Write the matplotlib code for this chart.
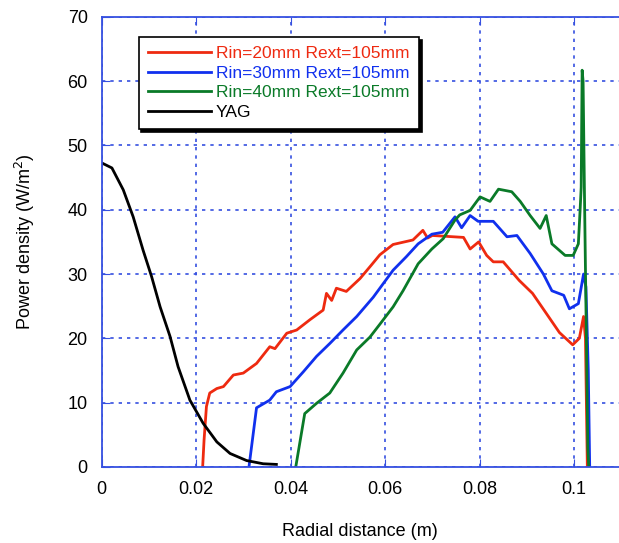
import numpy as np
import matplotlib.pyplot as plt

plt.rcParams['font.family'] = ['Liberation Sans', 'DejaVu Sans']

# Rin=20mm
x_r20 = [0.0214, 0.0217, 0.0222, 0.0229, 0.0244, 0.0258, 0.0279, 0.0300, 0.0328, 0.0356,
         0.0367, 0.0392, 0.0413, 0.0441, 0.0469, 0.0476, 0.0487, 0.0497, 0.0518, 0.0547,
         0.0571, 0.0589, 0.0617, 0.0659, 0.0680, 0.0690, 0.0700, 0.0766, 0.0780, 0.0798,
         0.0815, 0.0829, 0.0850, 0.0884, 0.0912, 0.0941, 0.0969, 0.0997, 0.1011, 0.1020,
         0.1024, 0.1028]
y_r20 = [0.0, 4.2, 9.4, 11.5, 12.2, 12.5, 14.3, 14.6, 16.1, 18.7,
         18.4, 20.8, 21.3, 22.9, 24.4, 27.0, 25.9, 27.8, 27.3, 29.3,
         31.4, 33.0, 34.6, 35.3, 36.8, 35.6, 36.0, 35.7, 33.9, 35.0,
         32.9, 31.9, 31.9, 29.0, 27.0, 23.9, 20.9, 19.0, 20.0, 23.4,
         20.0, 0.0]

# Rin=30mm
x_r30 = [0.0312, 0.0328, 0.0356, 0.0370, 0.0399, 0.0427, 0.0455, 0.0483, 0.0511, 0.0540,
         0.0575, 0.0617, 0.0645, 0.0670, 0.0699, 0.0722, 0.0748, 0.0762, 0.0780, 0.0797,
         0.0829, 0.0858, 0.0879, 0.0907, 0.0935, 0.0953, 0.0978, 0.0990, 0.1009, 0.1020,
         0.1025, 0.1030, 0.1033]
y_r30 = [0.0, 9.2, 10.4, 11.7, 12.5, 14.8, 17.2, 19.2, 21.3, 23.4,
         26.4, 30.6, 32.7, 34.7, 36.2, 36.5, 38.9, 37.2, 39.1, 38.2,
         38.2, 35.8, 36.0, 33.2, 30.0, 27.4, 26.7, 24.6, 25.4, 30.0,
         28.0, 15.0, 0.0]

# Rin=40mm
x_r40 = [0.0411, 0.0430, 0.0455, 0.0483, 0.0511, 0.0540, 0.0568, 0.0589, 0.0617, 0.0638,
         0.0670, 0.0699, 0.0723, 0.0748, 0.0758, 0.0780, 0.0801, 0.0822, 0.0840, 0.0868,
         0.0886, 0.0907, 0.0928, 0.0941, 0.0953, 0.0981, 0.0998, 0.1009, 0.1013, 0.1015,
         0.1016, 0.1017, 0.1019, 0.1022, 0.1029, 0.1031]
y_r40 = [0.0, 8.3, 9.9, 11.5, 14.6, 18.2, 20.2, 22.2, 24.9, 27.4,
         31.6, 33.9, 35.5, 38.4, 39.2, 39.9, 42.0, 41.3, 43.2, 42.8,
         41.3, 39.1, 37.1, 39.1, 34.7, 32.9, 32.9, 34.7, 40.4, 43.5,
         52.9, 61.7, 60.0, 42.0, 3.0, 0.0]

# YAG
x_yag = [0.0, 0.0022, 0.0046, 0.0067, 0.0088, 0.0106, 0.0124, 0.0145, 0.0162, 0.0187,
         0.0215, 0.0244, 0.0272, 0.0307, 0.0342, 0.0370]
y_yag = [47.3, 46.5, 43.1, 38.9, 33.7, 29.6, 24.9, 20.3, 15.6, 10.4,
         6.8, 3.9, 2.1, 1.0, 0.5, 0.4]

labels = ['Rin=20mm Rext=105mm', 'Rin=30mm Rext=105mm', 'Rin=40mm Rext=105mm', 'YAG']
colors = ['#ee2a10', '#1030ee', '#0a7a28', 'black']
axis_blue = '#3650e0'

fig = plt.figure(figsize=(6.19, 5.43), dpi=100)
ax = fig.add_axes([0.164, 0.14, 0.836, 0.829])

for xs, ys, c, lab in zip([x_r20, x_r30, x_r40, x_yag], [y_r20, y_r30, y_r40, y_yag], colors, labels):
    ax.plot(xs, ys, color=c, lw=2.0, label=lab)

ax.set_xlim(0, 0.1095)
ax.set_ylim(0, 70)
ax.set_xticks([0, 0.02, 0.04, 0.06, 0.08, 0.1])
ax.set_xticklabels(['0', '0.02', '0.04', '0.06', '0.08', '0.1'])
ax.set_yticks(np.arange(0, 71, 10))
ax.grid(True, color=axis_blue, linestyle=(0, (2, 3)), lw=1.2)
ax.tick_params(direction='in', length=6, color=axis_blue, labelsize=13, top=True, pad=10)
for side in ['left', 'bottom', 'top']:
    ax.spines[side].set_color(axis_blue)
    ax.spines[side].set_linewidth(1.3)
ax.spines['right'].set_visible(False)

ax.set_xlabel('Radial distance (m)', fontsize=13, labelpad=18)
ax.set_ylabel('Power density (W/m$^2$)', fontsize=13, labelpad=22)

leg = ax.legend(loc='upper left', bbox_to_anchor=(0.055, 0.975), fontsize=12.5,
                frameon=True, fancybox=False, edgecolor='black', framealpha=1,
                shadow={'color': 'black', 'alpha': 1}, handlelength=3.6,
                labelspacing=0.25, borderpad=0.55, handletextpad=0.3)
leg.get_frame().set_linewidth(1.2)
for txt, c in zip(leg.get_texts(), colors):
    txt.set_color(c)

fig.savefig('out.png', dpi=100)
